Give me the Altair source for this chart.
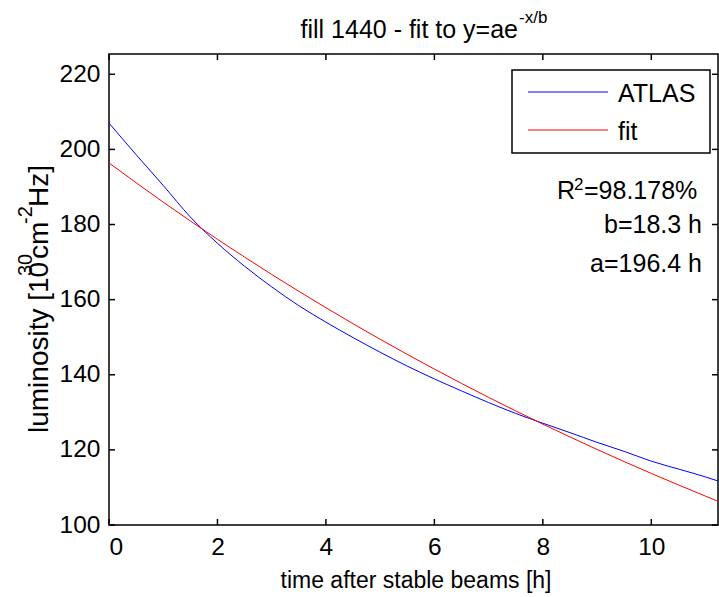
import altair as alt
import pandas as pd

# ---- data ----
time_h = [0.0, 0.5, 1.0, 1.5, 2.0, 2.5, 3.0, 3.5, 4.0, 4.5, 5.0, 5.5, 6.0,
          6.5, 7.0, 7.5, 8.0, 8.5, 9.0, 9.5, 10.0, 10.5, 11.0, 11.3]
atlas = [207.0, 198.6, 190.4, 182.0, 175.0, 168.9, 163.4, 158.4, 154.0, 149.9,
         146.0, 142.3, 138.9, 135.7, 132.6, 129.7, 127.1, 124.6, 122.0, 119.6,
         117.0, 114.9, 112.8, 111.4]
fit_t = [0, 1, 2, 3, 4, 5, 6, 7, 8, 9, 10, 11, 11.3]
fit_v = [196.4, 185.96, 176.07, 166.71, 157.85, 149.45, 141.51, 133.98,
         126.86, 120.12, 113.73, 107.68, 105.9]
series_names = ["ATLAS", "fit"]
series_colors = ["#0000ff", "#ff0000"]
x_ticks = [0, 2, 4, 6, 8, 10]
y_ticks = [100, 120, 140, 160, 180, 200, 220]
x_domain = [0, 11.23]
y_domain = [100, 225.4]
title_main = "fill 1440 - fit to y=ae"
title_sup = "-x/b"
r2_parts = ["R", "2", "=98.178%"]
b_text = "b=18.3 h"
a_text = "a=196.4 h"
ylab_parts = ["luminosity [10", "30", "cm", "-2", "Hz]"]
xlab = "time after stable beams [h]"

FONT = "Liberation Sans"
W, H = 609, 471
ONE = pd.DataFrame({"k": [0]})


def txt(s, x, y, size, align="left", angle=0, color="black"):
    kw = dict(align=align, baseline="alphabetic", font=FONT, fontSize=size,
              color=color, text=s)
    if angle:
        kw["angle"] = angle
    return alt.Chart(ONE).mark_text(**kw).encode(x=alt.value(x), y=alt.value(y))


df = pd.concat([
    pd.DataFrame({"t": time_h, "L": atlas, "series": series_names[0]}),
    pd.DataFrame({"t": fit_t, "L": fit_v, "series": series_names[1]}),
])

xs = alt.Scale(domain=x_domain, nice=False, zero=False)
ys = alt.Scale(domain=y_domain, nice=False, zero=False)

lines = alt.Chart(df).mark_line(strokeWidth=1, clip=True, interpolate="monotone").encode(
    x=alt.X("t:Q", scale=xs, axis=alt.Axis(
        values=x_ticks, format="d", tickSize=0, domain=False, grid=False,
        labelFontSize=24.5, labelFont=FONT, labelColor="black", labelPadding=10,
        title=xlab, titleFont=FONT, titleFontSize=23,
        titleFontWeight="normal", titleColor="black",
        titleBaseline="middle", titleY=55, titleX=W / 2 + 2)),
    y=alt.Y("L:Q", scale=ys, axis=alt.Axis(
        values=y_ticks, format="d", tickSize=0, domain=False, grid=False,
        labelFontSize=24.5, labelFont=FONT, labelColor="black", labelPadding=9,
        title=None)),
    color=alt.Color("series:N", scale=alt.Scale(domain=series_names, range=series_colors),
                    legend=None),
)

xt = pd.DataFrame({"t": x_ticks})
yt = pd.DataFrame({"L": y_ticks})
tick_style = dict(color="black", strokeWidth=1.5)
xb = alt.Chart(xt).mark_rule(**tick_style).encode(
    x=alt.X("t:Q", scale=xs), y=alt.value(H), y2=alt.value(H - 6))
xtop = alt.Chart(xt).mark_rule(**tick_style).encode(
    x=alt.X("t:Q", scale=xs), y=alt.value(0), y2=alt.value(6))
yl = alt.Chart(yt).mark_rule(**tick_style).encode(
    y=alt.Y("L:Q", scale=ys), x=alt.value(0), x2=alt.value(6))
yr = alt.Chart(yt).mark_rule(**tick_style).encode(
    y=alt.Y("L:Q", scale=ys), x=alt.value(W), x2=alt.value(W - 6))

# legend box (MATLAB-style)
leg_box = alt.Chart(ONE).mark_rect(
    fill="white", stroke="black", strokeWidth=1.5).encode(
    x=alt.value(403), x2=alt.value(601), y=alt.value(16), y2=alt.value(99))
leg_rows = [38, 76]
leg_layers = [leg_box]
for name, col, ry in zip(series_names, series_colors, leg_rows):
    leg_layers.append(alt.Chart(ONE).mark_rule(strokeWidth=1, color=col).encode(
        x=alt.value(419), x2=alt.value(499), y=alt.value(ry)))
    leg_layers.append(txt(name, 509, ry + 10, 25))

# statistics text
stats_layers = [
    txt(r2_parts[0], 448, 145, 25),
    txt(r2_parts[1], 465, 136, 17),
    txt(r2_parts[2], 475, 145, 25),
    txt(b_text, 593, 179, 25, align="right"),
    txt(a_text, 593, 218, 25, align="right"),
]

# title with superscript
title_layers = [
    txt(title_main, 409, -16, 25, align="right"),
    txt(title_sup, 410, -31, 17),
]

# rotated y-axis title with superscripts
ylab_layers = [
    txt(ylab_parts[0], -61, 379, 28, angle=270),
    txt(ylab_parts[1], -77, 222, 20, angle=270),
    txt(ylab_parts[2], -61, 205, 28, angle=270),
    txt(ylab_parts[3], -77, 170, 20, angle=270),
    txt(ylab_parts[4], -61, 153, 28, angle=270),
]

chart = alt.layer(lines, xb, xtop, yl, yr, *leg_layers, *stats_layers,
                  *title_layers, *ylab_layers).properties(
    width=W, height=H,
    autosize=alt.AutoSizeParams(type="none"),
    padding={"left": 109, "top": 54, "right": 1, "bottom": 72},
    background="white",
).configure_view(stroke="black", strokeWidth=1.5)

chart.save("out.html", embed_options={"renderer": "svg", "actions": False})
